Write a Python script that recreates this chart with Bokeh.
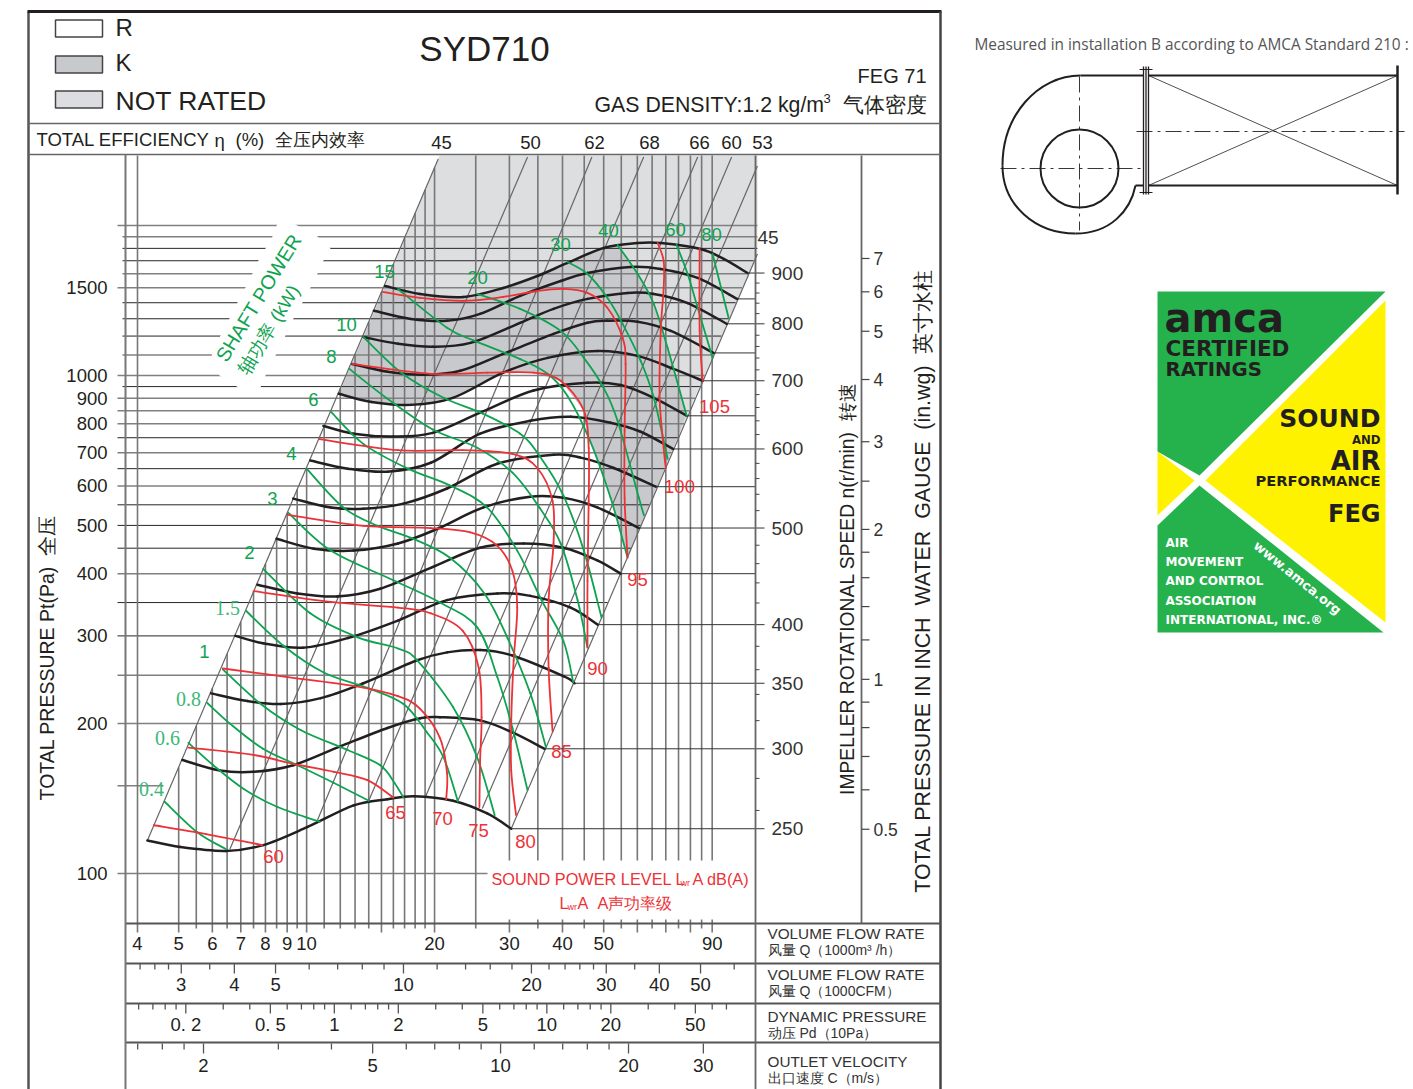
import math
from bokeh.plotting import figure
from bokeh.models import Range1d, LinearScale
from bokeh.core.properties import value
from bokeh.embed import file_html
from bokeh.resources import INLINE

# ---------- data: Q in 1000 m3/h, P in Pa ----------
n900_q = [15.3,18.5,23.4,29.0,34.9,41.1,50.0,60.1,68.1,84.5,95.8,109]
n900_p = [1513,1458,1438,1499,1584,1683,1803,1845,1845,1795,1714,1606]
n850_q = [14.4,17.6,21.4,25.6,31.8,39.6,45.8,57.8,68.1,83.2,103]
n850_p = [1349,1299,1288,1330,1445,1548,1606,1652,1637,1570,1425]
n800_q = [13.6,16.4,19.8,24.3,31.8,38.1,45.8,56.9,65.6,78.8,97.4]
n800_p = [1195,1158,1142,1163,1276,1361,1425,1465,1458,1398,1270]
n750_q = [12.8,15.5,18.8,23.0,29.0,38.1,45.8,51.0,60.1,71.9,90.7]
n750_p = [1055,1017,1003,1022,1105,1212,1276,1288,1282,1229,1110]
n700_q = [11.9,14.2,17.6,22.1,29.0,36.9,48.4,60.1,73.0,85.5]
n700_p = [919,885,873,902,1013,1085,1120,1095,1031,976]
n650_q = [10.95,12.9,16.0,19.8,25.6,34.2,45.8,54.8,65.6,78.4]
n650_p = [792,764,754,767,842,933,967,957,902,830]
n600_q = [10.2,12.5,15.5,19.6,25.6,33.6,41.8,51.9,61.1,72.8]
n600_p = [675,650,641,668,764,811,826,804,771,712]
n550_q = [9.3,11.4,13.6,16.9,21.4,28.1,38.1,44.1,52.8,66.3]
n550_p = [566,543,540,553,593,665,693,684,652,598]
n500_q = [8.5,10.4,12.9,16.4,20.3,26.0,33.6,40.2,48.4,60.5]
n500_p = [470,449,445,460,492,543,571,568,543,494]
n450_q = [7.66,9.52,11.8,14.9,19.6,25.6,32.4,40.2,48.4,54.8]
n450_p = [380,365,360,373,411,451,460,451,425,400]
n400_q = [6.8,7.9,9.8,12.5,16.4,21.4,28.1,33.6,41.8,48.4]
n400_p = [300,290,284,297,322,354,365,361,342,316]
n350_q = [5.96,7.26,8.7,10.8,13.6,18.2,21.4,25.6,30.5,40.2,42.7]
n350_p = [230,222,219,225,241,268,278,281,274,249,241]
n300_q = [5.1,6.25,7.5,9.3,12.0,15.5,18.5,20.6,25.6,30.5,36.3]
n300_p = [169,161,160,165,180,196,205,206,203,192,178]
n250_q = [4.22,5.05,6.45,7.9,10.05,12.9,15.5,17.9,22.1,26.6,30.3]
n250_p = [116.5,113,111,114,124,137,141,143,140,132,123]

db60_q = [4.37,5.8,7.87]
db60_p = [125,120,114]
db65_q = [5.27,7.5,9.3,11.6,13.9,16.0]
db65_p = [179,173,166,160,154,142]
db70_q = [6.35,9.02,12.9,16.4,18.5,20.6,21.4,21.3]
db70_p = [258,248,238,227,214,187,159,141]
db75_q = [7.5,11.4,16.4,19.6,23.3,25.4,25.8,25.6,25.5]
db75_p = [369,351,342,333,307,259,206,169,136]
db80_q = [9.02,13.6,19.6,24.3,28.1,30.5,31.3,30.7,30.3,30.3,31.1]
db80_p = [525,499,494,484,455,405,342,268,203,161,131]
db85_q = [10.7,16.4,23.3,30.5,34.9,37.9,38.1,37.1,37.1,37.9]
db85_p = [745,708,708,696,652,560,460,354,259,193]
db90_q = [12.8,19.6,26.6,34.2,39.6,44.9,46.1,46.1,45.8,45.8]
db90_p = [1055,1008,1013,1013,976,851,715,560,387,285]
db95_q = [15.1,18.5,23.3,29.0,34.9,40.2,45.8,51.0,55.4,56.3,56.0,56.0,56.9]
db95_p = [1472,1432,1412,1438,1478,1492,1465,1368,1190,1055,775,568,431]
db100_q = [67.0,69.2,69.2,68.1,67.7,69.2,70.0]
db100_p = [1845,1698,1499,1229,902,715,652]
db105_q = [84.1,84.1,85.5]
db105_p = [1795,1229,976]

kw04_q = [4.63,5.53,6.45]
kw04_p = [139.5,121,112]
kw06_q = [5.27,6.03,7.1,8.54,10.75]
kw06_p = [183,165,148,136,127]
kw08_q = [5.84,6.6,7.9,9.52,11.6,14.0]
kw08_p = [220,200,178,165,152,140]
kw1_q = [6.35,7.8,9.7,12.5,14.9,16.1,16.9]
kw1_p = [257,219,194,177,165,152,142]
kw15_q = [7.2,8.8,11.0,13.9,16.9,19.2,21.0,22.7]
kw15_p = [337,287,253,236,219,192,171,139.5]
kw2_q = [7.9,10.2,13.2,16.4,18.2,22.1,25.2,27.7]
kw2_p = [409,333,298,283,268,216,171,131]
kw3_q = [9.06,11.4,16.0,20.6,25.2,28.1,30.5,33.1]
kw3_p = [530,445,388,350,312,248,196,147]
kw4_q = [10.0,12.2,14.7,17.6,21.7,26.2,29.7,33.6,36.6]
kw4_p = [650,543,499,472,431,365,297,230,179]
kw6_q = [11.4,13.6,17.3,21.7,26.6,31.3,35.7,40.2,42.4]
kw6_p = [846,729,650,602,543,445,354,293,242]
kw8_q = [12.6,15.5,19.8,25.2,30.5,35.3,39.6,43.4,45.8]
kw8_p = [1031,898,779,716,638,543,460,354,284]
kw10_q = [13.6,16.7,21.0,26.0,31.8,35.3,40.2,44.9,49.4]
kw10_p = [1195,1013,902,838,764,690,574,445,327]
kw15b_q = [16.4,21.4,24.7,31.8,36.9,41.1,46.4,51.9,56.9]
kw15b_p = [1492,1247,1176,1079,1008,910,741,568,431]
kw20_q = [25.2,31.8,39.6,44.9,49.9,53.9,60.5,62.2]
kw20_p = [1458,1361,1229,1085,947,811,568,524]
kw30_q = [41.1,45.8,51.0,55.4,61.1,65.6,70.7]
kw30_p = [1690,1599,1432,1270,1070,902,680]
kw40_q = [53.9,60.1,65.6,70.7,78.4]
kw40_p = [1829,1599,1392,1135,830]
kw60_q = [74.2,78.8,83.2,90.2]
kw60_p = [1829,1599,1368,1085]
kw80_q = [90.2,98.4]
kw80_p = [1754,1305]

eff_labels = ["45","50","62","68","66","60","53"]
eff_top_q = [20.4,33.1,46.9,62.1,83.2,100,115]
eff_top_p = [2721,2747,2747,2747,2747,2747,2634]
eff_bot_q = [4.22,6.6,10.55,14.0,19.0,22.7,25.9]
eff_bot_p = [116.5,112,126.6,140,142,140,135]
edge_q = [115,30.3]
edge_p = [1754,123]

q_grid = [4,5,5.5,6,6.5,7,7.5,8,8.5,9,9.5,10,11,12,13,14,15,16,17,18,19,20,25,30,35,40,45,50,55,60,65,70,75,80,85,90]
q_major = [4,5,6,7,8,9,10,15,20,30,40,50,60,70,80,90]
q_labels = [4,5,6,7,8,9,10,20,30,40,50,90]
p_gray = [100,150,200,250,400,600,700,800,850,900,1000,1100,1500,1600,1900,2000]
p_dark = [300,350,450,500,550,650,750,950,1200,1300,1400,1700,1800]
p_labels = [100,200,300,400,500,600,700,800,900,1000,1500]
p_long = [100,150,200,250,300,350,400,450,500,550,600,650,700,750,800,850,900,1000,1500,2000]
speeds = [900,850,800,750,700,650,600,550,500,450,400,350,300,250]
speed_labels = [900,800,700,600,500,400,350,300,250]
speed_minor = [880,860,840,820,780,760,740,720,680,660,640,620,580,560,540,520,480,460,440,420,380,360,340,320,280,260]
wg_labels = [7,6,5,4,3,2,1,0.5]
wg_minor = [2.5,1.8,1.6,1.4,1.2,0.9,0.8,0.7,0.6]
cfm_ticks = [2.4,2.6,2.8,3,3.5,4,5,6,7,8,9,10,12,14,16,18,20,22,24,26,28,30,35,40,50,60]
cfm_labels = [3,4,5,10,20,30,40,50]
pd_ticks = [0.12,0.14,0.16,0.18,0.2,0.3,0.4,0.5,0.6,0.7,0.8,0.9,1,1.2,1.4,1.6,1.8,2,3,4,5,6,7,8,9,10,12,14,16,18,20,30,40,50,60,70]
pd_labels = [0.2,0.5,1,2,5,10,20,50]
vel_ticks = [1.4,1.6,1.8,2,3,4,5,6,7,8,9,10,12,14,16,18,20,30]
vel_labels = [2,5,10,20,30]
db_names = ["60","65","70","75","80","85","90","95","100","105"]

# ---------- scales ----------
X0, Y0 = 137.0, 873.0
def q_of_px(px): return 4 * 10 ** ((px - X0) / 425.0)
def p_of_py(py): return 100 * 10 ** ((Y0 - py) / 498.0)
CFM = 1.69; PD = 11.62; VEL = 2.86
SANS = "Liberation Sans"; SERIF = "Liberation Serif"
INK = "#231f20"; RED = "#ec3237"; GREEN = "#0ea350"; GRAY = "#777777"
NB = "\u00a0"

p = figure(width=1413, height=1089, output_backend="svg", toolbar_location=None,
           x_axis_type="log", y_axis_type="log",
           x_range=Range1d(q_of_px(0), q_of_px(1413)), y_range=Range1d(p_of_py(1089), p_of_py(0)),
           x_axis_location=None, y_axis_location=None, min_border=0, outline_line_color=None)
p.grid.visible = False
p.background_fill_color = "white"
p.extra_x_ranges = {"px": Range1d(0, 1413)}
p.extra_y_ranges = {"py": Range1d(1089, 0)}
p.extra_x_scales = {"px": LinearScale()}
p.extra_y_scales = {"py": LinearScale()}

def T(x, y, s, size, color=INK, font=SANS, align="left", base="middle", angle=0.0, xr="px", yr="py", style="normal"):
    xs = x if isinstance(x, list) else [x]
    ys = y if isinstance(y, list) else [y] * len(xs)
    ss = s if isinstance(s, list) else [s] * len(xs)
    if len(xs) == 1 and len(ys) > 1:
        xs = xs * len(ys)
    if len(ss) == 1 and len(xs) > 1:
        ss = ss * len(xs)
    if xr == "px":
        xs = [v - 1 for v in xs]
    if yr == "py":
        ys = [v - 0.7 for v in ys]
    p.text(x=xs, y=ys, text=ss, text_font=value(font), text_font_size=value(f"{size}px"),
           text_color=color, text_align=align, text_baseline=base, angle=angle,
           text_font_style=style, x_range_name=xr, y_range_name=yr)

def L(x, y, color=INK, w=1.0, dash="solid"):
    p.line(x, y, line_color=color, line_width=w, line_dash=dash, x_range_name="px", y_range_name="py")

def smooth(cq, cp, color, w):
    """Draw a curve through the read points as Bezier segments on the log-log scales."""
    if len(cq) == 2:
        p.line(cq, cp, line_color=color, line_width=w, line_cap="round")
        return
    lx = [math.log10(v) for v in cq]
    ly = [math.log10(v) for v in cp]
    n = len(lx)
    x0, y0, x1, y1, ax, ay, bx, by = [], [], [], [], [], [], [], []
    for i in range(n - 1):
        h, j, k = max(i - 1, 0), i + 1, min(i + 2, n - 1)
        x0.append(cq[i]); y0.append(cp[i]); x1.append(cq[j]); y1.append(cp[j])
        ax.append(10 ** (lx[i] + (lx[j] - lx[h]) / 6)); ay.append(10 ** (ly[i] + (ly[j] - ly[h]) / 6))
        bx.append(10 ** (lx[j] - (lx[k] - lx[i]) / 6)); by.append(10 ** (ly[j] - (ly[k] - ly[i]) / 6))
    p.bezier(x0=x0, y0=y0, x1=x1, y1=y1, cx0=ax, cy0=ay, cx1=bx, cy1=by, line_color=color, line_width=w, line_cap="round")

# ---------- shaded zones ----------
top_p = p_of_py(155)
light_q = [q_of_px(439), edge_q[0], edge_q[0]] + kw40_q[::-1] + n900_q[6::-1]
light_p = [top_p, top_p, edge_p[0]] + kw40_p[::-1] + n900_p[6::-1]
dark_q = n900_q[:7] + kw40_q + kw15b_q[:5:-1] + db90_q[6:2:-1] + n700_q[4::-1]
dark_p = n900_p[:7] + kw40_p + kw15b_p[:5:-1] + db90_p[6:2:-1] + n700_p[4::-1]
p.patch(light_q, light_p, fill_color="#dddee0", line_color=None)
p.patch(dark_q, dark_p, fill_color="#c8c9cd", line_color=None)

# ---------- grid ----------
def right_end(v): return min(115.0, 30.3 * math.sqrt(v / 123.0))
def h_end(v):
    if v == 100: return q_of_px(487)
    if v == 150: return q_of_px(163)
    return right_end(v)
for group, col, w in ((p_gray, "#808080", 1.5), (p_dark, "#262626", 1.0)):
    p.segment([q_of_px(117 if v in p_long else 122) for v in group], group,
              [h_end(v) for v in group], group, line_color=col, line_width=w)
# white band behind the rotated caption
band_x = [277,272,265,258,252,245,237,229,220,211,219,241,259,265,275,285,293,302,310,317,323,330,317,293]
band_y = [223,236,248,260,273,287,302,318,335,355,375,389,389,375,355,335,318,302,287,273,260,248,236,223]
p.patch(band_x, band_y, fill_color="white", line_color=None, x_range_name="px", y_range_name="py")

def v_top(q):
    if q == 4: return top_p
    return min(top_p, eff_top_p[0] * (q / eff_top_q[0]) ** 2)
def v_end(q): return p_of_py(932 if q in q_major else 928)
up = [q for q in q_grid if q >= 30]
low = [q for q in q_grid if q < 30]
p.segment(low, [v_top(q) for q in low], low, [v_end(q) for q in low], line_color=GRAY, line_width=1.6)
p.segment(up, [v_top(q) for q in up], up, [p_of_py(860)] * len(up), line_color=GRAY, line_width=1.6)
p.segment(up, [p_of_py(919)] * len(up), up, [v_end(q) for q in up], line_color=GRAY, line_width=1.6)
p.segment(eff_top_q, eff_top_p, eff_bot_q, eff_bot_p, line_color="#666666", line_width=1.2)
p.line(edge_q, edge_p, line_color="#666666", line_width=1.2)

# ---------- curves ----------
speed_curves = [(n900_q,n900_p),(n850_q,n850_p),(n800_q,n800_p),(n750_q,n750_p),(n700_q,n700_p),(n650_q,n650_p),(n600_q,n600_p),
                (n550_q,n550_p),(n500_q,n500_p),(n450_q,n450_p),(n400_q,n400_p),(n350_q,n350_p),(n300_q,n300_p),(n250_q,n250_p)]
for cq, cp in speed_curves:
    smooth(cq, cp, INK, 2.5)
speed_end = {}
for n, (cq, cp) in zip(speeds, speed_curves):
    speed_end[n] = cp[-1]
    end_px = 764 if n in speed_labels else 755
    p.line([cq[-1], q_of_px(end_px)], [cp[-1], cp[-1]], line_color="#333333", line_width=1.0)
green_curves = [(kw04_q,kw04_p),(kw06_q,kw06_p),(kw08_q,kw08_p),(kw1_q,kw1_p),(kw15_q,kw15_p),(kw2_q,kw2_p),(kw3_q,kw3_p),(kw4_q,kw4_p),
                (kw6_q,kw6_p),(kw8_q,kw8_p),(kw10_q,kw10_p),(kw15b_q,kw15b_p),(kw20_q,kw20_p),(kw30_q,kw30_p),(kw40_q,kw40_p),(kw60_q,kw60_p),(kw80_q,kw80_p)]
for cq, cp in green_curves:
    smooth(cq, cp, GREEN, 1.8)
red_curves = [(db60_q,db60_p),(db65_q,db65_p),(db70_q,db70_p),(db75_q,db75_p),(db80_q,db80_p),(db85_q,db85_p),(db90_q,db90_p),(db95_q,db95_p),(db100_q,db100_p),(db105_q,db105_p)]
for cq, cp in red_curves:
    smooth(cq, cp, RED, 1.8)

# ---------- frame ----------
L([28,28],[11,1089],"#555555",2.5)
L([27,941],[11,11],INK,3)
L([940,940],[11,1089],"#444444",2.5)
L([28,940],[123,123],"#666666",1.5)
L([28,940],[154,154],"#666666",1.5)
for yy in (923,963,1003,1042):
    L([125,940],[yy,yy],"#555555",1.8)
L([125,125],[154,1089],GRAY,2)
L([755,755],[155,1089],"#666666",1.8)
L([861,861],[155,923],"#666666",1.8)

# ---------- bottom scale rows ----------
def row(ticks, conv, majors, top, longlen, shortlen):
    xs = [conv(t) for t in ticks]
    p.segment(xs, [top]*len(xs), xs, [top + (longlen if t in majors else shortlen) for t in ticks],
              line_color="#555555", line_width=1.3, y_range_name="py")
row(cfm_ticks, lambda v: CFM*v, cfm_labels, 963, 10, 6)
row(pd_ticks, lambda v: PD*math.sqrt(v), pd_labels, 1003, 10, 6)
row(vel_ticks, lambda v: VEL*v, vel_labels, 1043, 10, 6)
TICK = 18.5
T([float(q) for q in q_labels], 944, [str(q) for q in q_labels], TICK, align="center", xr="default")
T([CFM*v for v in cfm_labels], 985, [str(v) for v in cfm_labels], TICK, align="center", xr="default")
T([PD*math.sqrt(v) for v in pd_labels], 1025, [str(v).replace("0.","0."+NB) for v in pd_labels], TICK, align="center", xr="default")
T([VEL*v for v in vel_labels], 1066, [str(v) for v in vel_labels], TICK, align="center", xr="default")

# ---------- left and right scales ----------
T(108, [float(v) for v in p_labels], [str(v) for v in p_labels], TICK, align="right", yr="default")
minor_p = [0.00198*n*n for n in speed_minor]
p.segment([755]*len(minor_p), minor_p, [759]*len(minor_p), minor_p, line_color="#444444", line_width=1, x_range_name="px")
T(772, [speed_end[n] for n in speed_labels], [str(n) for n in speed_labels], 19, color="#333333", yr="default")
T(758, 238, "45", 19, color="#333333")
wg_all = wg_labels + wg_minor
p.segment([861]*len(wg_all), [245.4*v for v in wg_all], [869]*len(wg_all), [245.4*v for v in wg_all],
          line_color="#444444", line_width=1.2, x_range_name="px")
T(874, [245.4*v for v in wg_labels], [str(v) for v in wg_labels], 17.5, color="#333333", yr="default")

# ---------- headers ----------
for yy, fc in ((20,"white"),(56,"#c8c9cd"),(91,"#dcdde0")):
    p.quad(left=[55],right=[102],top=[yy-0.5],bottom=[yy+16.5],fill_color=fc,line_color="#444444",line_width=1.5,x_range_name="px",y_range_name="py")
T(116,28,"R",24); T(116,63,"K",24); T(116,101,"NOT RATED",26.5)
T(485,49,"SYD710",35,align="center")
T(927,76,"FEG 71",20,align="right")
T(595,105,"GAS DENSITY:1.2 kg/m",21.3)
T(824,99,"3",13)
T(927,105,"气体密度",20.5,align="right")
T(37,140,"TOTAL EFFICIENCY",18.5)
T(215,141,"η",18.5); T(236,140,"(%)",18.5); T(275,140,"全压内效率",18)
T([442,531,595,650,700,732,763],143,eff_labels,TICK,align="center")
T(47,658,"TOTAL PRESSURE Pt(Pa)"+NB+NB+"全压",19.5,align="center",angle=math.pi/2)
T(848,589,"IMPELLER ROTATIONAL SPEED n(r/min)"+NB+NB+"转速",19.3,align="center",angle=math.pi/2)
T(923,581,"TOTAL PRESSURE IN INCH"+NB+NB+"WATER"+NB+NB+"GAUGE"+NB+NB+"(in.wg)"+NB+NB+"英寸水柱",21.4,align="center",angle=math.pi/2)

# ---------- curve labels ----------
T([205,250,273,292,314,332,347,385,478,561,609,676,712],[652,553,499,454,400,357,325,272,278,245,231,230,235],
  ["1","2","3","4","6","8","10","15","20","30","40","60","80"],18.5,color=GREEN,align="center")
T([152,168,189,228],[789,738,699,608],["0.4","0.6","0.8","1.5"],20,color="#3cb878",font=SERIF,align="center")
T([274,396,443,479,526,562,598,638,680,715],[857,813,819,831,842,752,669,580,487,407],db_names,18.5,color=RED,align="center")
T(259,298,"SHAFT POWER",19.8,color=GREEN,align="center",angle=math.radians(58.6))
T(269,330,"轴功率 (kW)",18.5,color=GREEN,align="center",angle=math.radians(58.6))
T(492,879,"SOUND POWER LEVEL L",16.3,color=RED)
T(681,883,"wr",9,color=RED)
T(693,879,"A dB(A)",16.3,color=RED)
T(560,903,"L",16.3,color=RED)
T(568,907,"wr",9,color=RED)
T(578,903,"A"+NB+NB+"A声功率级",16.3,color=RED)

for yy, a, b in ((934,"VOLUME FLOW RATE","风量 Q（1000m³ /h）"),(975,"VOLUME FLOW RATE","风量 Q（1000CFM）"),
                 (1017,"DYNAMIC PRESSURE","动压 Pd（10Pa）"),(1062,"OUTLET VELOCITY","出口速度 C（m/s）")):
    T(768,yy,a,15.3,color="#333333")
    T(768,yy+16,b,14,color="#333333")

# ---------- installation sketch ----------
T(975,45,"Measured in installation B according to AMCA Standard 210 :",15.4,color="#555555",font="Open Sans")
L([1080,1143],[75,75],INK,2)
L([1135,1143],[185,185],INK,2)
L([1148,1397],[75,75],INK,2)
L([1148,1397],[185,185],INK,2)
L([1397,1397],[65,194],INK,2.5)
for xx in (1143,1145.5,1148):
    L([xx,xx],[66,194],INK,1.3)
for yy in (69,192):
    L([1139,1152],[yy,yy],INK,1.2)
L([1148,1397],[75,185],INK,0.8); L([1148,1397],[185,75],INK,0.8)
L([1136,1404],[131,131],INK,0.9,"16 5 3 5")
L([1000,1145],[168,168],INK,0.9,"16 5 3 5")
L([1079,1079],[76,230],INK,0.9,"16 5 3 5")
p.ellipse([1079],[168],width=[78],height=[78],fill_color=None,line_color=INK,line_width=2,x_range_name="px",y_range_name="py")
p.bezier(x0=[1080,1002,1075],y0=[75,165,233],x1=[1002,1075,1135],y1=[165,233,185],
         cx0=[1037,1002,1110],cy0=[75,205,233],cx1=[1002,1035,1130],cy1=[115,233,210],
         line_color=INK,line_width=2,x_range_name="px",y_range_name="py")

# ---------- AMCA badge ----------
BG, BY = "#25b14c", "#fff200"
p.patch([1157,1385,1199,1157],[291,291,475,451],fill_color=BG,line_color=None,x_range_name="px",y_range_name="py")
p.patch([1157,1199,1383,1157],[525,485,632,632],fill_color=BG,line_color=None,x_range_name="px",y_range_name="py")
p.patch([1385,1205,1385],[300,480,622],fill_color=BY,line_color=None,x_range_name="px",y_range_name="py")
p.patch([1157,1194,1157],[451,480,515],fill_color=BY,line_color=None,x_range_name="px",y_range_name="py")
D = "DejaVu Sans"
T(1165,318,"amca",40,color=INK,font=D,style="bold")
T(1166,349,"CERTIFIED",21.5,color=INK,font=D,style="bold")
T(1166,370,"RATINGS",19.7,color=INK,font=D,style="bold")
T(1381,419,"SOUND",25,color=INK,font=D,align="right",style="bold")
T(1381,440,"AND",11.7,color=INK,font=D,align="right",style="bold")
T(1381,461,"AIR",26,color=INK,font=D,align="right",style="bold")
T(1381,481,"PERFORMANCE",14.7,color=INK,font=D,align="right",style="bold")
T(1381,514,"FEG",24,color=INK,font=D,align="right",style="bold")
for yy, s in ((543,"AIR"),(562,"MOVEMENT"),(581,"AND CONTROL"),(601,"ASSOCIATION"),(620,"INTERNATIONAL, INC.®")):
    T(1166,yy,s,12,color="white",font=D,style="bold")
T(1298,578,"www.amca.org",13,color="white",font=D,align="center",angle=math.radians(-39),style="bold")

open("out.html", "w").write(file_html(p, INLINE))
